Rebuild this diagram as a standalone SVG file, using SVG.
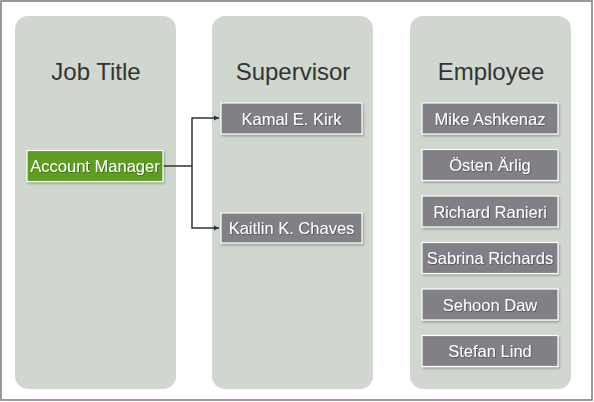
<svg xmlns="http://www.w3.org/2000/svg" width="594" height="402" viewBox="0 0 594 402">
<defs>
<style>
.panel{fill:#cfd7cf}
.title{font-family:"Liberation Sans",Arial,sans-serif;font-size:24px;fill:#333333;text-anchor:middle}
.box{stroke:#ffffff;stroke-width:1.2}
.gray{fill:#808086}
.green{fill:#5d9e24}
.lbl{font-family:"Liberation Sans",Arial,sans-serif;font-size:16.5px;fill:#ffffff;text-anchor:middle}
.conn{fill:none;stroke:#333333;stroke-width:1.5}
</style>
<filter id="sh" x="-10%" y="-20%" width="130%" height="150%">
<feDropShadow dx="1" dy="1.5" stdDeviation="1.2" flood-color="#000" flood-opacity="0.3"/>
</filter>
<filter id="ts" x="-5%" y="-20%" width="110%" height="150%">
<feDropShadow dx="0.7" dy="0.7" stdDeviation="0.5" flood-color="#000" flood-opacity="0.45"/>
</filter>
<marker id="arr" markerWidth="6" markerHeight="6" refX="5" refY="3" orient="auto" markerUnits="userSpaceOnUse">
<path d="M0,0.5 L5,3 L0,5.5 Z" fill="#333333"/>
</marker>
</defs>
<rect x="0" y="0" width="594" height="402" fill="#ffffff"/>
<rect x="1" y="1" width="591" height="399" fill="none" stroke="#7a7a7a" stroke-width="1.5"/>
<g id="panel-jobtitle">
<rect class="panel" x="15" y="16" width="161" height="373" rx="13"/>
<text class="title" x="96" y="80">Job Title</text>
</g>
<g id="panel-supervisor">
<rect class="panel" x="212" y="16" width="161" height="373" rx="13"/>
<text class="title" x="293" y="80">Supervisor</text>
</g>
<g id="panel-employee">
<rect class="panel" x="410" y="16" width="161" height="373" rx="13"/>
<text class="title" x="491" y="80">Employee</text>
</g>
<g id="connectors">
<path class="conn" d="M163,166 H192 V118 H219" marker-end="url(#arr)"/>
<path class="conn" d="M192,166 V228 H219" marker-end="url(#arr)"/>
</g>
<g id="node-account-manager">
<rect class="box green" x="27" y="150.5" width="136" height="31" filter="url(#sh)"/>
<text class="lbl" x="95" y="172" filter="url(#ts)">Account Manager</text>
</g>
<g id="node-kamal">
<rect class="box gray" x="221" y="103" width="141" height="31" filter="url(#sh)"/>
<text class="lbl" x="291.5" y="124.5" filter="url(#ts)">Kamal E. Kirk</text>
</g>
<g id="node-kaitlin">
<rect class="box gray" x="221" y="213" width="141" height="30" filter="url(#sh)"/>
<text class="lbl" x="291.5" y="234" filter="url(#ts)">Kaitlin K. Chaves</text>
</g>
<g id="node-mike">
<rect class="box gray" x="422" y="103" width="136" height="31" filter="url(#sh)"/>
<text class="lbl" x="490" y="124.5" filter="url(#ts)">Mike Ashkenaz</text>
</g>
<g id="node-osten">
<rect class="box gray" x="422" y="149.5" width="136" height="31" filter="url(#sh)"/>
<text class="lbl" x="490" y="171" filter="url(#ts)">Östen Ärlig</text>
</g>
<g id="node-richard">
<rect class="box gray" x="422" y="196" width="136" height="31" filter="url(#sh)"/>
<text class="lbl" x="490" y="217.5" filter="url(#ts)">Richard Ranieri</text>
</g>
<g id="node-sabrina">
<rect class="box gray" x="422" y="242.5" width="136" height="31" filter="url(#sh)"/>
<text class="lbl" x="490" y="264" filter="url(#ts)">Sabrina Richards</text>
</g>
<g id="node-sehoon">
<rect class="box gray" x="422" y="289" width="136" height="31" filter="url(#sh)"/>
<text class="lbl" x="490" y="310.5" filter="url(#ts)">Sehoon Daw</text>
</g>
<g id="node-stefan">
<rect class="box gray" x="422" y="335.5" width="136" height="31" filter="url(#sh)"/>
<text class="lbl" x="490" y="357" filter="url(#ts)">Stefan Lind</text>
</g>
</svg>
